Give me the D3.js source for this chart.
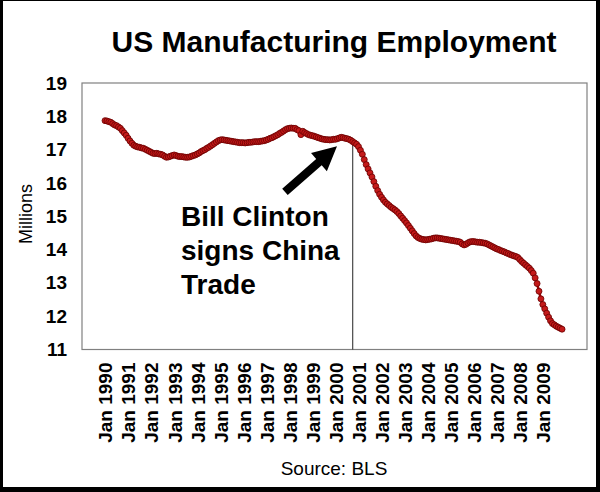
<!DOCTYPE html>
<html>
<head>
<meta charset="utf-8">
<script src="https://cdn.jsdelivr.net/npm/d3@7"></script>
<style>
  html, body { margin: 0; padding: 0; background: #fff; }
  svg { display: block; font-family: Arial, "Liberation Sans", sans-serif; }
</style>
</head>
<body>
<svg id="chart" width="600" height="492"></svg>
<script>
// Monthly US manufacturing employment, millions (Jan 1990 .. Nov 2009)
const startYear = 1990;
const values = [
  // 1990
  17.87, 17.86, 17.84, 17.82, 17.78, 17.74, 17.72, 17.68, 17.64, 17.57, 17.50, 17.43,
  // 1991
  17.34, 17.26, 17.19, 17.13, 17.10, 17.08, 17.07, 17.05, 17.04, 17.01, 16.98, 16.95,
  // 1992
  16.92, 16.89, 16.88, 16.89, 16.87, 16.86, 16.84, 16.80, 16.77, 16.78, 16.80, 16.82,
  // 1993
  16.84, 16.82, 16.80, 16.79, 16.79, 16.78, 16.77, 16.77, 16.78, 16.80, 16.82, 16.84,
  // 1994
  16.87, 16.90, 16.94, 16.97, 17.00, 17.04, 17.07, 17.11, 17.15, 17.19, 17.23, 17.27,
  // 1995
  17.29, 17.30, 17.29, 17.28, 17.27, 17.26, 17.25, 17.24, 17.23, 17.22, 17.21, 17.21,
  // 1996
  17.21, 17.20, 17.21, 17.22, 17.22, 17.23, 17.24, 17.24, 17.24, 17.25, 17.26, 17.27,
  // 1997
  17.29, 17.31, 17.34, 17.36, 17.39, 17.42, 17.45, 17.49, 17.52, 17.56, 17.60, 17.63,
  // 1998
  17.64, 17.65, 17.64, 17.64, 17.60, 17.57, 17.45, 17.55, 17.51, 17.48, 17.45, 17.43,
  // 1999
  17.42, 17.40, 17.38, 17.36, 17.34, 17.32, 17.31, 17.30, 17.30, 17.29, 17.30, 17.31,
  // 2000
  17.31, 17.33, 17.35, 17.37, 17.36, 17.34, 17.33, 17.31, 17.28, 17.24, 17.20, 17.16,
  // 2001
  17.09, 16.98, 16.86, 16.70, 16.55, 16.42, 16.30, 16.18, 16.04, 15.90, 15.77, 15.66,
  // 2002
  15.57, 15.49, 15.42, 15.37, 15.32, 15.27, 15.23, 15.19, 15.14, 15.08, 15.01, 14.94,
  // 2003
  14.87, 14.80, 14.72, 14.64, 14.56, 14.48, 14.41, 14.36, 14.33, 14.31, 14.30, 14.29,
  // 2004
  14.30, 14.31, 14.32, 14.34, 14.35, 14.35, 14.34, 14.33, 14.32, 14.31, 14.30, 14.29,
  // 2005
  14.28, 14.27, 14.26, 14.25, 14.24, 14.22, 14.17, 14.14, 14.16, 14.20, 14.23, 14.24,
  // 2006
  14.24, 14.23, 14.22, 14.22, 14.21, 14.20, 14.19, 14.17, 14.14, 14.11, 14.08, 14.05,
  // 2007
  14.02, 14.00, 13.97, 13.95, 13.93, 13.90, 13.88, 13.85, 13.83, 13.81, 13.79, 13.76,
  // 2008
  13.70, 13.64, 13.59, 13.54, 13.49, 13.44, 13.37, 13.29, 13.15, 12.98, 12.75, 12.52,
  // 2009
  12.35, 12.22, 12.09, 11.97, 11.86, 11.78, 11.74, 11.70, 11.67, 11.64, 11.61
];
const tickYears = [1990,1991,1992,1993,1994,1995,1996,1997,1998,1999,2000,2001,2002,2003,2004,2005,2006,2007,2008,2009];
const tickLabels = tickYears.map(y => "Jan " + y);
const yTicks = [11,12,13,14,15,16,17,18,19];
const eventMonth = 129;  // Oct 2000 (months since Jan 1990)
const annotationLines = ["Bill Clinton", "signs China", "Trade"];
const titleText = "US Manufacturing Employment";
const yLabel = "Millions";
const sourceText = "Source: BLS";

const svg = d3.select("#chart");
const W = 600, H = 492;

// frame
svg.append("rect").attr("x",0).attr("y",0).attr("width",W).attr("height",H).attr("fill","#000");
svg.append("rect").attr("x",3).attr("y",1).attr("width",593).attr("height",486).attr("fill","#fff");

const plot = {left: 82, right: 587, top: 83, bottom: 349.5};
const x = d3.scaleLinear().domain([-12, 251]).range([plot.left, plot.right]);
const y = d3.scaleLinear().domain([11, 19]).range([plot.bottom, plot.top]);

// plot border
svg.append("rect")
  .attr("x", plot.left).attr("y", plot.top)
  .attr("width", plot.right - plot.left).attr("height", plot.bottom - plot.top)
  .attr("fill", "none").attr("stroke", "#808080").attr("stroke-width", 1.2);

// title
svg.append("text").attr("x", 334).attr("y", 52)
  .attr("text-anchor","middle").attr("font-size", 30).attr("font-weight","bold")
  .attr("fill","#000").text(titleText);

// y axis labels
const yAxis = d3.axisLeft(y).tickValues(yTicks).tickSize(0).tickPadding(15).tickFormat(d3.format("d"));
const gy = svg.append("g").attr("transform", `translate(${plot.left},0)`).call(yAxis);
gy.select(".domain").remove();
gy.selectAll("text").attr("font-size", 19).attr("font-weight","bold").attr("fill","#000")
  .attr("font-family","Arial, 'Liberation Sans', sans-serif");

// x axis labels
const xAxis = d3.axisBottom(x).tickValues(tickYears.map(yy => (yy - startYear) * 12))
  .tickSize(0).tickFormat((d, i) => tickLabels[i]);
const gx = svg.append("g").attr("transform", `translate(0,${plot.bottom})`).call(xAxis);
gx.select(".domain").remove();
gx.selectAll("text")
  .attr("font-size", 19).attr("font-weight","bold").attr("fill","#000")
  .attr("font-family","Arial, 'Liberation Sans', sans-serif")
  .attr("text-anchor","end")
  .attr("transform","rotate(-90)")
  .attr("x", -13).attr("y", 0).attr("dy","0.36em");

// y axis title
svg.append("text").attr("transform","translate(32,214) rotate(-90)")
  .attr("text-anchor","middle").attr("font-size",18).attr("fill","#000").text(yLabel);

// source
svg.append("text").attr("x", 334).attr("y", 475)
  .attr("text-anchor","middle").attr("font-size",19).attr("fill","#000").text(sourceText);

// event vertical line
svg.append("line")
  .attr("x1", x(eventMonth)).attr("x2", x(eventMonth))
  .attr("y1", plot.bottom).attr("y2", y(values[eventMonth]))
  .attr("stroke","#222").attr("stroke-width",1);

// series
const pts = values.map((v, i) => [i, v]);
svg.append("path").datum(pts)
  .attr("d", d3.line().x(d => x(d[0])).y(d => y(d[1])))
  .attr("fill","none").attr("stroke","#a00000").attr("stroke-width",2.5);
svg.append("g").selectAll("circle").data(pts).join("circle")
  .attr("cx", d => x(d[0])).attr("cy", d => y(d[1])).attr("r", 3)
  .attr("fill","#c41a1a").attr("stroke","#6a0000").attr("stroke-width",0.8);

// annotation text
const ann = svg.append("text").attr("x", 181).attr("y", 226)
  .attr("font-size", 28).attr("font-weight","bold").attr("fill","#000");
annotationLines.forEach((t, i) => {
  ann.append("tspan").attr("x", 181).attr("y", 226 + i * 34).text(t);
});

// arrow (tail -> tip)
const tail = [x(93.7), y(15.73)], tip = [x(120.8), y(17.1)];
const dx = tip[0] - tail[0], dy = tip[1] - tail[1];
const len = Math.hypot(dx, dy), ux = dx / len, uy = dy / len, nx = -uy, ny = ux;
const headLen = 24, headW = 12, shaftW = 4.2;
const bx = tip[0] - ux * headLen, by = tip[1] - uy * headLen;
const poly = [
  [tail[0] + nx * shaftW, tail[1] + ny * shaftW],
  [bx + nx * shaftW, by + ny * shaftW],
  [bx + nx * headW, by + ny * headW],
  tip,
  [bx - nx * headW, by - ny * headW],
  [bx - nx * shaftW, by - ny * shaftW],
  [tail[0] - nx * shaftW, tail[1] - ny * shaftW]
];
svg.append("polygon").attr("points", poly.map(p => p.join(",")).join(" ")).attr("fill","#000");
</script>
</body>
</html>
